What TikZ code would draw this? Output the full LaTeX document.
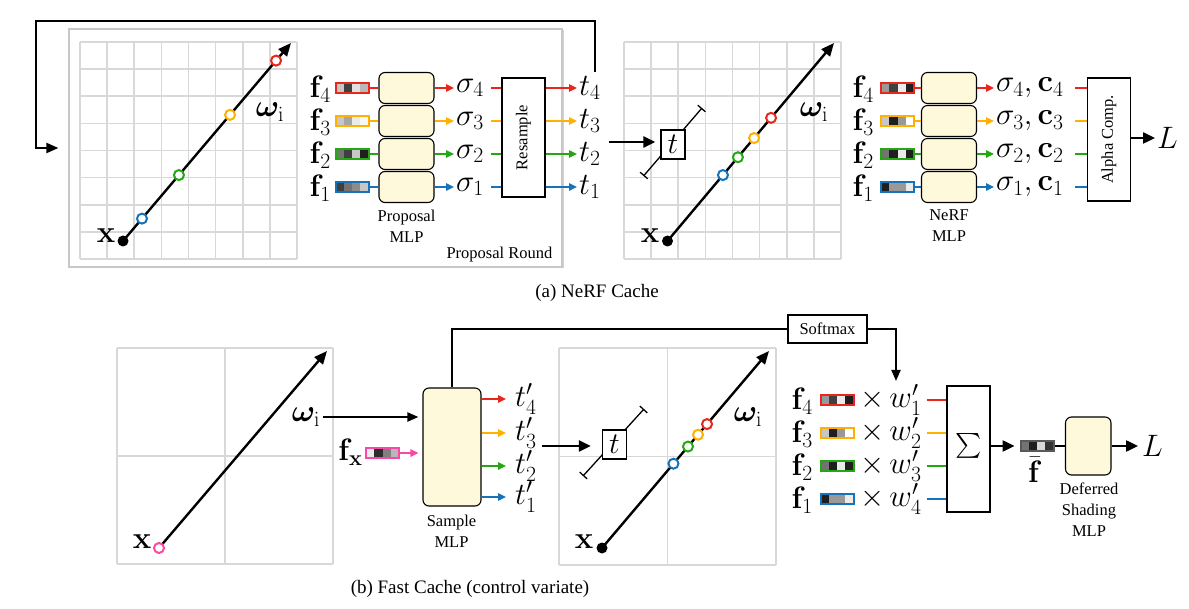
\RequirePackage{fix-cm}
\documentclass[tikz,border=0pt]{standalone}
\usepackage{amsmath}
\usepackage{bm}
\usepackage[no-math]{fontspec}
\setmainfont{Liberation Serif}
\usetikzlibrary{arrows.meta,calc,shadows}
\definecolor{cred}{RGB}{232,38,28}
\definecolor{corange}{RGB}{255,176,0}
\definecolor{cgreen}{RGB}{35,168,20}
\definecolor{cblue}{RGB}{22,115,186}
\definecolor{cpink}{RGB}{252,72,165}
\definecolor{gridgray}{RGB}{216,216,216}
\definecolor{mlpfill}{RGB}{255,249,220}
\tikzset{
 mathlbl/.style={font=\fontsize{31}{33}\selectfont, inner sep=0pt},
 smalltxt/.style={font=\fontsize{16.5}{21}\selectfont, inner sep=0pt},
 captxt/.style={font=\fontsize{19}{22}\selectfont, inner sep=0pt},
 mlpbox/.style={draw, line width=1.1pt, rounded corners=6pt, fill=mlpfill},
 blackbox/.style={draw, line width=1.3pt, fill=white, inner sep=0pt},
 ray/.style={line width=2.4pt, -{Triangle[length=13pt,width=11pt]}},
 thickarrow/.style={line width=2.4pt, -{Triangle[length=12pt,width=11pt]}},
 thickline/.style={line width=2.4pt},
 medarrow/.style={line width=1.9pt, -{Triangle[length=11pt,width=9pt]}},
 colline/.style={line width=1.6pt},
 colarrow/.style={line width=1.6pt, -{Triangle[length=8pt,width=7.5pt]}},
 sampcirc/.style={circle, draw, line width=2pt, fill=white, minimum size=10pt, inner sep=0pt},
 dotnode/.style={circle, fill=black, minimum size=11pt, inner sep=0pt},
 gridline/.style={draw=gridgray, line width=1.6pt},
 brack/.style={line width=1.3pt, {Bar[width=10pt]}-{Bar[width=10pt]}},
 tbox/.style={draw, line width=1.3pt, fill=white, minimum width=24pt, minimum height=29pt, inner sep=0pt, font=\fontsize{30}{32}\selectfont},
 propbox/.style={draw=black!22, line width=1.2pt, fill=white, minimum width=493pt, minimum height=238pt, inner sep=0pt, drop shadow={shadow xshift=1.5pt, shadow yshift=-1.5pt, fill=black!35}},
 fbline/.style={line width=2.2pt, -{Triangle[length=12pt,width=10pt]}},
}
% feature vector: name, x, y, border colour, four cell shades
\newcommand\featbox[8]{%
  \fill[#5] ($(#2,#3)+(-16.5,-5)$) rectangle ++(8.25,10);
  \fill[#6] ($(#2,#3)+(-8.25,-5)$) rectangle ++(8.25,10);
  \fill[#7] ($(#2,#3)+(0,-5)$) rectangle ++(8.25,10);
  \fill[#8] ($(#2,#3)+(8.25,-5)$) rectangle ++(8.25,10);
  \node[draw=#4, line width=2pt, minimum width=33pt, minimum height=10pt, inner sep=0pt] (#1) at (#2,#3) {};}
% grid panel: x0, y0, size, cells
\newcommand\gridpanel[4]{%
  \pgfmathsetmacro\cellw{#3/#4}%
  \foreach \i in {0,...,#4}{
    \draw[gridline] ({#1+\i*\cellw},#2) -- ++(0,#3);
    \draw[gridline] (#1,{#2+\i*\cellw}) -- ++(#3,0);
  }}
\begin{document}
\begin{tikzpicture}[x=1pt,y=-1pt]
\useasboundingbox (0,0) rectangle (1189,609);

% ================= (a) Proposal round =================
\node[propbox] (prop) at (315.5,148) {};
\node[smalltxt] (proplbl) at (499.5,255) {Proposal Round};
\gridpanel{80}{42}{217}{8}
\coordinate (xo1) at (123,241);
\coordinate (rt1) at (291,43);
\draw[ray] (xo1) -- (rt1);
\node[dotnode] (xd1) at (xo1) {};
\node[mathlbl] (xl1) at (106,236) {$\mathbf{x}$};
\node[sampcirc, draw=cblue] (c1b) at ($(xo1)!0.113!(rt1)$) {};
\node[sampcirc, draw=cgreen] (c1g) at ($(xo1)!0.333!(rt1)$) {};
\node[sampcirc, draw=corange] (c1o) at ($(xo1)!0.637!(rt1)$) {};
\node[sampcirc, draw=cred] (c1r) at ($(xo1)!0.911!(rt1)$) {};
\node[mathlbl] (om1) at (270,112) {$\bm{\omega}_{\mathrm{i}}$};

\foreach \k/\y/\col/\ca/\cb/\cc/\cd in {
 4/88/cred/black!22/black!75/black!12/black!28,
 3/121/corange/black!22/black!35/black!8/black!3,
 2/154/cgreen/black!55/black!75/black!22/black!88,
 1/187/cblue/black!75/black!55/black!45/black!22}{
  \node[mathlbl, anchor=east] (pfl\k) at (331,\y+1) {$\mathbf{f}_\k$};
  \featbox{pf\k}{352}{\y}{\col}{\ca}{\cb}{\cc}{\cd}
  \node[mlpbox, minimum width=55pt, minimum height=31pt] (pm\k) at (406.5,\y) {};
  \node[mathlbl, anchor=west] (ps\k) at (456,\y) {$\sigma_\k$};
  \node[mathlbl, anchor=west] (pt\k) at (579,\y) {$t_\k$};
}
\node[smalltxt, align=center] (pmlbl) at (406.5,226) {Proposal\\MLP};
\node[blackbox, minimum width=43pt, minimum height=119pt] (res) at (523.5,137.5) {};
\node[smalltxt, rotate=90] (reslbl) at (res.center) {Resample};
\foreach \k/\col in {4/cred,3/corange,2/cgreen,1/cblue}{
  \draw[colline,\col] (pf\k.east) -- (pm\k.west);
  \draw[colarrow,\col,shorten >=2pt] (pm\k.east) -- (ps\k.west);
  \draw[colline,\col] ($(ps\k.west)+(35,0)$) -- (ps\k.west -| res.west);
  \draw[colarrow,\col,shorten >=2pt] (res.east |- pt\k.west) -- (pt\k.west);
}
% feedback loop
\coordinate (fbs) at (595,72);
\coordinate (fbc) at (36,21);
\draw[fbline] (fbs) |- (fbc) |- ($(prop.west)+(-10,0)$);

% ================= (a) NeRF part =================
\gridpanel{624}{42}{217}{8}
\coordinate (xo2) at (667.5,241);
\coordinate (rt2) at (834,43);
\draw[ray] (xo2) -- (rt2);
\node[dotnode] (xd2) at (xo2) {};
\node[mathlbl] (xl2) at (650,236) {$\mathbf{x}$};
\node[sampcirc, draw=cblue] (c2b) at ($(xo2)!0.333!(rt2)$) {};
\node[sampcirc, draw=cgreen] (c2g) at ($(xo2)!0.423!(rt2)$) {};
\node[sampcirc, draw=corange] (c2o) at ($(xo2)!0.52!(rt2)$) {};
\node[sampcirc, draw=cred] (c2r) at ($(xo2)!0.622!(rt2)$) {};
\node[mathlbl] (om2) at (814,112) {$\bm{\omega}_{\mathrm{i}}$};
\coordinate (br1a) at (643.5,176);
\coordinate (br1b) at (702,108);
\draw[brack] (br1a) -- (br1b);
\node[tbox] (tb1) at (673,144.5) {$t$};
\coordinate (tin1) at (609,142);
\draw[thickarrow, shorten >=5pt] (tin1) -- (tin1 -| tb1.west);

\foreach \k/\y/\col/\ca/\cb/\cc/\cd in {
 4/88/cred/black!40/black!75/black!8/black!88,
 3/121/corange/black!22/black!88/black!40/white,
 2/154/cgreen/black!55/black!88/black!8/black!88,
 1/187/cblue/black!88/black!40/black!40/black!8}{
  \node[mathlbl, anchor=east] (nfl\k) at (874,\y+1) {$\mathbf{f}_\k$};
  \featbox{nf\k}{897.5}{\y}{\col}{\ca}{\cb}{\cc}{\cd}
  \node[mlpbox, minimum width=55pt, minimum height=31pt] (nm\k) at (949,\y) {};
  \node[mathlbl, anchor=west] (nsc\k) at (996,\y) {$\sigma_\k,\mathbf{c}_\k$};
}
\node[smalltxt, align=center] (nmlbl) at (949,226) {NeRF\\MLP};
\node[blackbox, minimum width=42.5pt, minimum height=123pt] (alp) at (1109,139.5) {};
\node[smalltxt, rotate=90] (alplbl) at (alp.center) {Alpha Comp.};
\foreach \k/\col in {4/cred,3/corange,2/cgreen,1/cblue}{
  \draw[colline,\col] (nf\k.east) -- (nm\k.west);
  \draw[colarrow,\col,shorten >=2pt] (nm\k.east) -- (nsc\k.west);
  \draw[colline,\col] ($(nsc\k.west)+(79,0)$) -- (nsc\k.west -| alp.west);
}
\node[font=\fontsize{31}{33}\selectfont, inner sep=0pt, anchor=west] (L1) at (1157,138) {$L$};
\draw[thickarrow, shorten >=2pt] (alp.east |- L1.west) -- (L1.west);
\node[captxt] (capa) at (597,293) {(a) NeRF Cache};

% ================= (b) Fast cache =================
\gridpanel{117}{348}{216}{2}
\coordinate (xo3) at (159,548);
\coordinate (rt3) at (327,351);
\draw[ray] (xo3) -- (rt3);
\node[sampcirc, draw=cpink] (xp3) at (xo3) {};
\node[mathlbl] (xl3) at (142,542) {$\mathbf{x}$};
\node[mathlbl] (om3) at (306,417) {$\bm{\omega}_{\mathrm{i}}$};
\node[mlpbox, minimum width=58pt, minimum height=118pt] (smlp) at (452,447) {};
\node[smalltxt, align=center] (smlbl) at (451.5,531) {Sample\\MLP};
\draw[medarrow, shorten <=3pt, shorten >=4pt] (om3.east) -- (om3.east -| smlp.west);
\node[mathlbl] (fxl) at (350.5,452) {$\mathbf{f}_{\mathbf{x}}$};
\featbox{fxb}{382.5}{453}{cpink}{black!8}{black!82}{black!50}{black!28}
\draw[colarrow, cpink, shorten >=4pt] (fxb.east) -- (fxb.east -| smlp.west);
\foreach \k/\y/\col in {4/399/cred,3/433/corange,2/466/cgreen,1/497/cblue}{
  \node[mathlbl, anchor=west] (tp\k) at (515,\y) {$t'_\k$};
  \draw[colarrow,\col,shorten >=9pt] (smlp.east |- tp\k.west) -- (tp\k.west);
}
% middle panel
\gridpanel{559}{348}{217}{2}
\coordinate (xo4) at (602,548);
\coordinate (rt4) at (769,351);
\draw[ray] (xo4) -- (rt4);
\node[dotnode] (xd4) at (xo4) {};
\node[mathlbl] (xl4) at (584,542) {$\mathbf{x}$};
\node[sampcirc, draw=cblue] (c4b) at ($(xo4)!0.428!(rt4)$) {};
\node[sampcirc, draw=cgreen] (c4g) at ($(xo4)!0.515!(rt4)$) {};
\node[sampcirc, draw=corange] (c4o) at ($(xo4)!0.575!(rt4)$) {};
\node[sampcirc, draw=cred] (c4r) at ($(xo4)!0.629!(rt4)$) {};
\node[mathlbl] (om4) at (748,417) {$\bm{\omega}_{\mathrm{i}}$};
\coordinate (br2a) at (583,476);
\coordinate (br2b) at (644,409);
\draw[brack] (br2a) -- (br2b);
\node[tbox] (tb2) at (614.5,444.5) {$t$};
\coordinate (tin2) at (542,446);
\draw[thickarrow, shorten >=11pt] (tin2) -- (tin2 -| tb2.west);
% softmax path
\node[blackbox, smalltxt, minimum width=79pt, minimum height=28pt] (soft) at (827.5,329) {Softmax};
\draw[line width=2.2pt] (smlp.north) |- (soft.west);
\coordinate (wtop) at (896,381);
\draw[medarrow] (soft.east) -| (wtop);
% weighted features
\node[blackbox, minimum width=43pt, minimum height=126pt] (sig) at (968.5,449) {};
\node[font=\fontsize{34}{36}\selectfont, inner sep=0pt] (siglbl) at (969,446) {$\textstyle\sum$};
\foreach \k/\w/\y/\col/\ca/\cb/\cc/\cd in {
 4/1/400/cred/black!40/black!75/black!8/black!88,
 3/2/433/corange/black!22/black!88/black!40/white,
 2/3/466/cgreen/black!55/black!88/black!8/black!88,
 1/4/499/cblue/black!88/black!40/black!40/black!8}{
  \node[mathlbl, anchor=east] (bfl\k) at (813,\y+1) {$\mathbf{f}_\k$};
  \featbox{bf\k}{837}{\y}{\col}{\ca}{\cb}{\cc}{\cd}
  \node[mathlbl, anchor=west] (bwp\k) at (860,\y) {$\times\, w'_{\w}$};
  \coordinate (bls\k) at (927,\y);
  \draw[colline,\col] (bls\k) -- (bls\k -| sig.west);
}
\featbox{fb}{1037}{446}{black!65}{black!55}{black!88}{black!15}{black!80}
\node[mathlbl] (fbl) at (1035,470) {$\bar{\mathbf{f}}$};
\draw[thickarrow, shorten >=5pt] (fb -| sig.east) -- (fb.west);
\node[mlpbox, minimum width=45.5pt, minimum height=58pt] (dmlp) at (1088.25,446) {};
\draw[thickline] (fb.east) -- (dmlp.west);
\node[font=\fontsize{31}{33}\selectfont, inner sep=0pt, anchor=west] (L2) at (1142,446) {$L$};
\draw[thickarrow, shorten >=4pt] (dmlp.east) -- (L2.west);
\node[smalltxt, align=center] (dmlbl) at (1089,510) {Deferred\\Shading\\MLP};
\node[captxt] (capb) at (470,589) {(b) Fast Cache (control variate)};
\end{tikzpicture}
\end{document}
